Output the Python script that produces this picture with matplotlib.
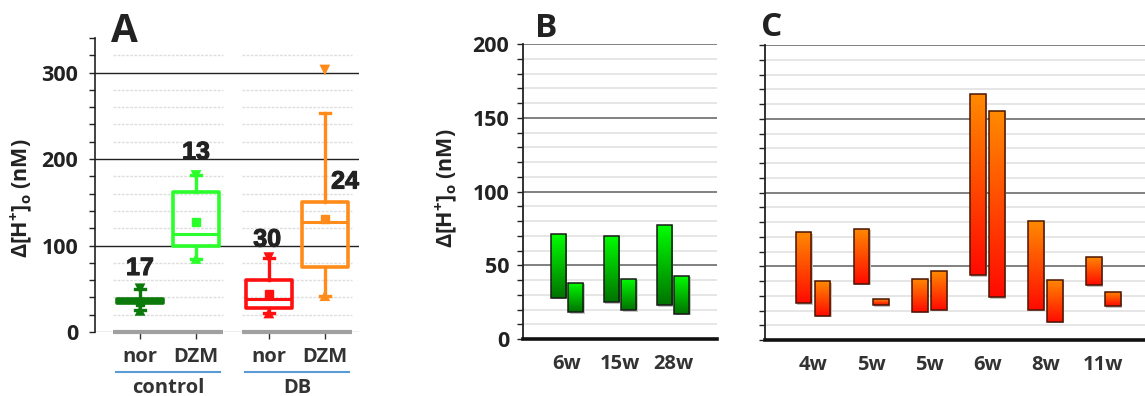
import numpy as np
import matplotlib
matplotlib.use('Agg')
import matplotlib.pyplot as plt
import matplotlib.patheffects as pe
from matplotlib.transforms import offset_copy, blended_transform_factory
from matplotlib.colors import LinearSegmentedColormap

# ---------------- data ----------------
# Panel A (box plots)
box_labels = ['nor', 'DZM', 'nor', 'DZM']
group_labels = ['control', 'DB']
box_q1 = [33, 100, 28, 75]
box_q3 = [38, 162, 60, 150]
box_med = [35, 113, 38, 127]
box_mean = [35, 127, 44, 131]
box_whislo = [25, 85, 22, 42]
box_whishi = [50, 181, 86, 253]
box_min = [25, 85, 22, 42]
box_max = [50, 181, 86, 303]
box_n = [17, 13, 30, 24]

# Panel B (floating bars, green)
b_cats = ['6w', '15w', '28w']
b_bar1_low = [28, 25, 23]
b_bar1_high = [71, 70, 77]
b_bar2_low = [18, 19.5, 17]
b_bar2_high = [38, 41, 43]

# Panel C (floating bars, orange)
c_cats = ['4w', '5w', '5w', '6w', '8w', '11w']
c_bar1_low = [25, 38, 19, 44, 20.5, 37]
c_bar1_high = [73, 75.5, 41.5, 167, 80.5, 56.5]
c_bar2_low = [16.5, 23.5, 20.5, 29, 12.5, 23]
c_bar2_high = [40, 27.5, 46.5, 155, 41, 32.5]

# ---------------- style ----------------
FONT = 'Open Sans'
plt.rcParams['font.family'] = [FONT, 'DejaVu Sans']
plt.rcParams['mathtext.fontset'] = 'custom'
plt.rcParams['mathtext.rm'] = FONT + ':bold'
plt.rcParams['mathtext.bf'] = FONT + ':bold'
plt.rcParams['mathtext.it'] = FONT + ':bold'
TXT = '#222222'
W, H = 1145, 396

fig = plt.figure(figsize=(W / 100, H / 100), dpi=100)

def fax(l, r, b, t):
    return fig.add_axes([l / W, 1 - b / H, (r - l) / W, (b - t) / H])

ylabel = 'Δ[H$^{+}$]$_{\\mathrm{o}}$ (nM)'

# ---------------- Panel A ----------------
axA = fax(95, 359, 332, 38)
posA = [1, 2, 3.3, 4.3]
box_colors = ['#0b7a0b', '#2bff2b', '#ff1010', '#ff8c1a']
stats = []
for i in range(len(box_labels)):
    stats.append(dict(med=box_med[i], q1=box_q1[i], q3=box_q3[i],
                      whislo=box_whislo[i], whishi=box_whishi[i],
                      mean=box_mean[i], fliers=[]))
art = axA.bxp(stats, positions=posA, widths=0.82, patch_artist=True,
              showmeans=True, showcaps=True, capwidths=0.18,
              showfliers=False, manage_ticks=False, zorder=4)
for i, c in enumerate(box_colors):
    art['boxes'][i].set(edgecolor=c, facecolor=(c if i == 0 else 'none'),
                        linewidth=2.6, joinstyle='round')
    for w in art['whiskers'][2 * i:2 * i + 2]:
        w.set(color=c, linewidth=2.4)
    for cp in art['caps'][2 * i:2 * i + 2]:
        cp.set(color=c, linewidth=2.4)
    art['medians'][i].set(color=c, linewidth=2.2)
    art['means'][i].set(marker='s', markerfacecolor=c, markeredgecolor=c,
                        markersize=5.5)
axA.scatter(posA, box_max, marker='v', c=box_colors, s=60, zorder=5, linewidths=0)
axA.scatter(posA, box_min, marker='^', c=box_colors, s=60, zorder=5, linewidths=0)

# count labels
count_xy = [(1, 74), (2, 208), (3.27, 107), (4.66, 174)]
for n, (x, y) in zip(box_n, count_xy):
    axA.text(x, y, str(n), ha='center', va='center', fontsize=18,
             fontweight='bold', family='Liberation Sans', color=TXT, zorder=6,
             path_effects=[pe.withStroke(linewidth=0.8, foreground=TXT)])

axA.set_ylim(0, 340)
axA.set_xlim(0.196, 4.91)
axA.set_yticks([0, 100, 200, 300])
axA.set_yticks(np.arange(0, 341, 20), minor=True)
axA.tick_params(axis='y', which='both', direction='out', length=4, width=1,
                color='#222', labelsize=15.5, pad=8, labelcolor=TXT)
for lab in axA.get_yticklabels():
    lab.set_fontweight('bold')
axA.yaxis.grid(True, which='major', color='#222222', linewidth=1.0, zorder=1)
axA.yaxis.get_major_ticks()[0].gridline.set_color('#aaaaaa')
axA.set_axisbelow(True)
axA.set_xticks(posA)
axA.set_xticklabels(box_labels, fontsize=14.5, fontweight='bold', color='#333333')
axA.tick_params(axis='x', direction='out', length=5, width=1, color='#333', pad=6)
for s in ['top', 'right', 'bottom']:
    axA.spines[s].set_visible(False)
axA.spines['left'].set_color('#222')
axA.spines['left'].set_linewidth(1.2)

group_centers = [(posA[0] + posA[1]) / 2, (posA[2] + posA[3]) / 2]
minor_vals = [v for v in np.arange(20, 340, 20) if v % 100 != 0]
trA = blended_transform_factory(axA.transData, axA.transAxes)
for gc, gl in zip(group_centers, group_labels):
    axA.hlines(minor_vals, gc - 0.98, gc + 0.98, colors='#dedede',
               linewidth=1.0, linestyles=(0, (2, 1)), zorder=1)
    axA.hlines(0, gc - 0.98, gc + 0.98, colors='#a0a0a0', linewidth=3,
               clip_on=False, zorder=3)
    axA.plot([gc - 0.93, gc + 0.93], [-0.136, -0.136], color='#5b9bd5',
             linewidth=1.5, transform=trA, clip_on=False)
    axA.text(gc, -0.19, gl, transform=trA, ha='center', va='center',
             fontsize=14.5, fontweight='bold', color='#333333')

# ---------------- Panels B and C ----------------
def float_panel(ax, cats, lo1, hi1, lo2, hi2, width, off, cmap, edge, xlim):
    x = np.arange(len(cats))
    grad = np.linspace(0, 1, 256).reshape(-1, 1)
    shadow_tr = offset_copy(ax.transData, fig=fig, x=1.5, y=-1.5, units='dots')
    for xs, lo, hi in [(x - off, lo1, hi1), (x + off, lo2, hi2)]:
        heights = np.array(hi) - np.array(lo)
        sh = ax.bar(xs, heights, width=width, bottom=lo, color='#c4c4c4',
                    linewidth=0, zorder=2.3)
        for p in sh:
            p.set_transform(shadow_tr)
        bars = ax.bar(xs, heights, width=width, bottom=lo, facecolor='none',
                      edgecolor=edge, linewidth=1.1, zorder=3)
        for p in bars:
            x0, y0 = p.get_x(), p.get_y()
            im = ax.imshow(grad, extent=[x0, x0 + p.get_width(), y0, y0 + p.get_height()],
                           aspect='auto', cmap=cmap, origin='lower', zorder=2.5,
                           interpolation='bilinear')
            im.set_clip_path(p)
    ax.set_xlim(*xlim)
    ax.set_ylim(0, 200)
    ax.set_xticks(x)
    ax.set_xticklabels(cats, fontsize=14.5, fontweight='bold', color='#333333')
    ax.tick_params(axis='x', length=0, pad=11)
    ax.set_yticks(np.arange(0, 201, 50))
    ax.set_yticks(np.arange(0, 201, 10), minor=True)
    ax.tick_params(axis='y', which='both', direction='out', length=4, width=1,
                   color='#222')
    ax.yaxis.grid(True, which='minor', color='#e2e2e2', linewidth=1.2, zorder=1)
    ax.yaxis.grid(True, which='major', color='#808080', linewidth=1.4, zorder=1)
    ax.set_axisbelow(True)
    for s in ['top', 'right']:
        ax.spines[s].set_visible(False)
    ax.spines['left'].set_color('#222')
    ax.spines['left'].set_linewidth(1.3)
    ax.spines['bottom'].set_color('#111')
    ax.spines['bottom'].set_linewidth(2.6)
    ax.spines['bottom'].set_zorder(4)

green = LinearSegmentedColormap.from_list('g', ['#007200', '#00ff00'])
orange = LinearSegmentedColormap.from_list('o', ['#ff0a00', '#ff8a00'])

axB = fax(523, 717, 339, 44)
float_panel(axB, b_cats, b_bar1_low, b_bar1_high, b_bar2_low, b_bar2_high,
            0.283, 0.165, green, '#1a1a1a', (-0.83, 2.83))
axB.tick_params(axis='y', labelsize=15.5, pad=6, labelcolor=TXT)
for lab in axB.get_yticklabels():
    lab.set_fontweight('bold')

axC = fax(765, 1145, 340, 45)
float_panel(axC, c_cats, c_bar1_low, c_bar1_high, c_bar2_low, c_bar2_high,
            0.27, 0.164, orange, '#4a1500', (-0.83, 5.72))
axC.tick_params(axis='y', labelleft=False)

# ---------------- labels ----------------
fig.text(22 / W, 1 - 198 / H, ylabel, rotation=90, ha='center', va='center',
         fontsize=15.5, fontweight='bold', color=TXT)
fig.text(447 / W, 1 - 188 / H, ylabel, rotation=90, ha='center', va='center',
         fontsize=15.5, fontweight='bold', color=TXT)
fig.text(111 / W, 1 - 42 / H, 'A', fontsize=28, fontweight='bold', color=TXT,
         ha='left', va='baseline')
fig.text(535 / W, 1 - 37 / H, 'B', fontsize=24, fontweight='bold', color=TXT,
         ha='left', va='baseline')
fig.text(761 / W, 1 - 36 / H, 'C', fontsize=24, fontweight='bold', color=TXT,
         ha='left', va='baseline')

fig.savefig('out.png', dpi=100)
